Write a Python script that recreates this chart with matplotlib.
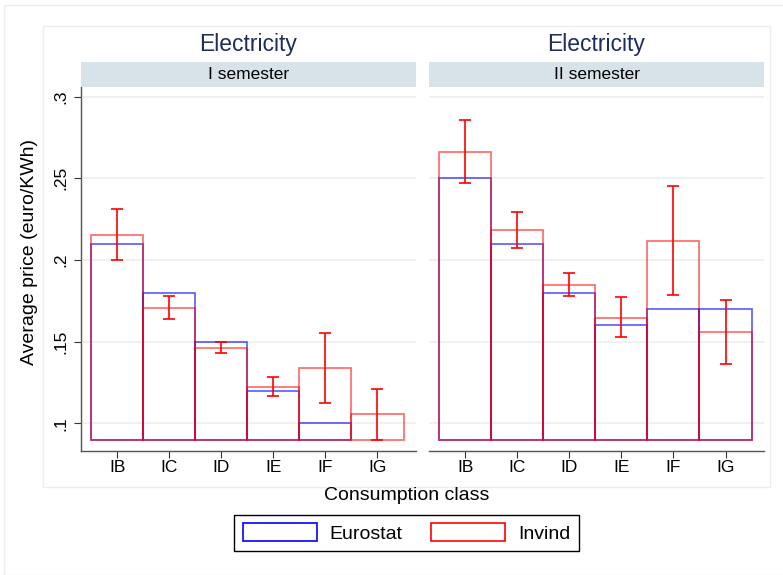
#!/usr/bin/env python3
"""Average electricity price by consumption class, Eurostat vs Invind, two semesters."""

import numpy as np
import matplotlib
matplotlib.use('Agg')
import matplotlib.pyplot as plt
from matplotlib.patches import Patch, Rectangle

plt.rcParams['font.family'] = ['Liberation Sans', 'DejaVu Sans']

classes = ['IB', 'IC', 'ID', 'IE', 'IF', 'IG']
semesters = ['I semester', 'II semester']

# Eurostat prices (euro/KWh); nan = not available
eurostat_s1 = [0.210, 0.180, 0.150, 0.120, 0.100, np.nan]
eurostat_s2 = [0.250, 0.210, 0.180, 0.160, 0.170, 0.170]

# Invind means and confidence intervals
invind_s1 = [0.2155, 0.1706, 0.1463, 0.1222, 0.1337, 0.1055]
invind_s1_lo = [0.1998, 0.1639, 0.1431, 0.1167, 0.1124, 0.0900]
invind_s1_hi = [0.2314, 0.1780, 0.1498, 0.1282, 0.1555, 0.1212]
invind_s2 = [0.2663, 0.2184, 0.1847, 0.1645, 0.2116, 0.1557]
invind_s2_lo = [0.2471, 0.2076, 0.1780, 0.1527, 0.1784, 0.1365]
invind_s2_hi = [0.2857, 0.2296, 0.1920, 0.1771, 0.2455, 0.1753]

BASE = 0.09
BLUE = (0.0, 0.0, 1.0, 0.65)
RED = (1.0, 0.0, 0.0, 0.6)
GRID = '#e9eff2'
STRIP = '#d8e3e9'
NAVY = '#1f2d5c'

fig = plt.figure(figsize=(7.83, 5.75), dpi=100)
W, H = 783.0, 575.0

# faint outer frames (Stata graph/plot regions)
fig.patches.append(Rectangle((4 / W, 0), 1.0, 1 - 5 / H, transform=fig.transFigure,
                             fill=False, edgecolor='#e8eef1', lw=1.0))
fig.patches.append(Rectangle((43 / W, 1 - 487 / H), (770 - 43) / W, (487 - 26) / H,
                             transform=fig.transFigure, fill=False, edgecolor='#e8eef1', lw=1.0))

panels = [
    (80.7, 416.0, eurostat_s1, invind_s1, invind_s1_lo, invind_s1_hi),
    (429.0, 764.0, eurostat_s2, invind_s2, invind_s2_lo, invind_s2_hi),
]
ax_top, ax_bot = 87.0, 450.7
x = np.arange(1, len(classes) + 1)

for i, (left, right, euro, inv, lo, hi) in enumerate(panels):
    ax = fig.add_axes([left / W, 1 - ax_bot / H, (right - left) / W, (ax_bot - ax_top) / H])
    ax.set_xlim(0.3, 6.74)
    ax.set_ylim(0.0832, 0.3059)
    yt = [0.1, 0.15, 0.2, 0.25, 0.3]
    for v in yt:
        ax.axhline(v, color=GRID, lw=1.2, zorder=0)

    euro = np.array(euro)
    inv = np.array(inv)
    ok = ~np.isnan(euro)
    ax.bar(x[ok], euro[ok] - BASE, bottom=BASE, width=1.0, fill=False,
           edgecolor=BLUE, linewidth=1.2, zorder=2)
    ax.bar(x, inv - BASE, bottom=BASE, width=1.0, fill=False,
           edgecolor=RED, linewidth=1.2, zorder=3)
    err = [inv - np.array(lo), np.array(hi) - inv]
    ax.errorbar(x, inv, yerr=err, fmt='none', ecolor='red', elinewidth=1.2,
                capsize=4.5, capthick=1.2, zorder=4)

    ax.set_xticks(x)
    ax.set_xticklabels(classes, fontsize=12.5)
    ax.tick_params(axis='x', length=5, width=0.8, color='#333333', pad=2)
    for s in ['top', 'right']:
        ax.spines[s].set_visible(False)
    ax.spines['bottom'].set_color('#555555')
    ax.spines['bottom'].set_linewidth(1.0)
    if i == 0:
        ax.set_yticks(yt)
        ax.set_yticklabels(['.1', '.15', '.2', '.25', '.3'], rotation=90,
                           va='center', fontsize=12.5)
        ax.tick_params(axis='y', length=5, width=0.8, color='#333333', pad=4)
        ax.spines['left'].set_color('#555555')
        ax.spines['left'].set_linewidth(1.0)
    else:
        ax.set_yticks([])
        ax.spines['left'].set_visible(False)

    # strip and title
    sax = fig.add_axes([left / W, 1 - ax_top / H, (right - left) / W, 25 / H])
    sax.set_facecolor(STRIP)
    sax.set_xticks([])
    sax.set_yticks([])
    for s in sax.spines.values():
        s.set_visible(False)
    sax.text(0.5, 0.5, semesters[i], ha='center', va='center', fontsize=12.5,
             transform=sax.transAxes)
    fig.text((left + right) / 2 / W, 1 - 44 / H, 'Electricity', ha='center', va='center',
             fontsize=16.5, color=NAVY)

fig.text(30 / W, 1 - 252 / H, 'Average price (euro/KWh)', rotation=90,
         ha='center', va='center', fontsize=14)
fig.text(407 / W, 1 - 495 / H, 'Consumption class', ha='center', va='center', fontsize=14)

handles = [Patch(facecolor='white', edgecolor='blue', lw=1.2),
           Patch(facecolor='white', edgecolor='red', lw=1.2)]
leg = fig.legend(handles, ['Eurostat', 'Invind'], loc='center',
                 bbox_to_anchor=(406.5 / W, 1 - 533 / H), ncol=2, fontsize=14,
                 handlelength=3.8, handleheight=1.0, handletextpad=0.65,
                 columnspacing=1.5, borderpad=0.45, fancybox=False,
                 edgecolor='black', framealpha=1)
leg.get_frame().set_linewidth(1.0)

fig.savefig('out.png', dpi=100)
